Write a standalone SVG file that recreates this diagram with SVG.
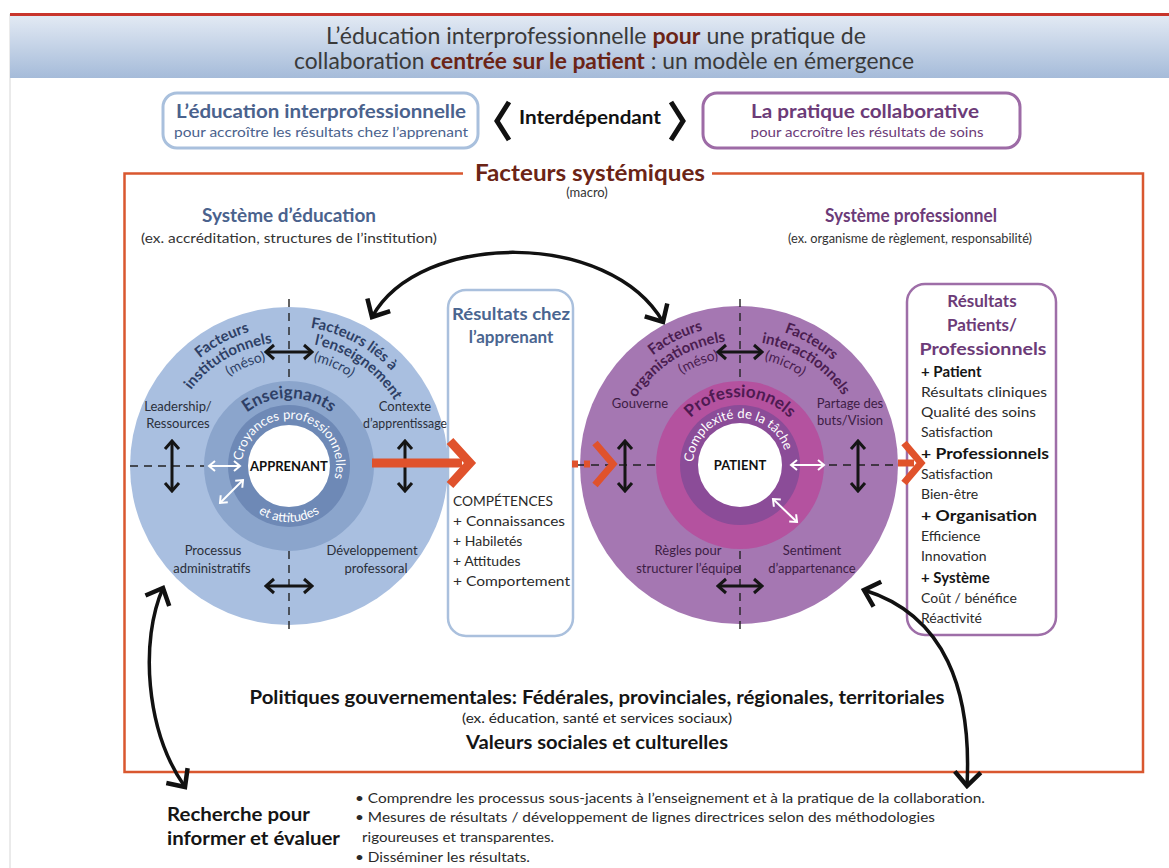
<svg xmlns="http://www.w3.org/2000/svg" width="1169" height="868" viewBox="0 0 1169 868">
<style>
text{font-family:Lato,"Liberation Sans","DejaVu Sans",sans-serif;fill:#2a2a2a}
.b{font-weight:700}
.c{text-anchor:middle}
.blueT{fill:#4a628d}
.purT{fill:#6c3b78}
.brown{fill:#6b2416}
.lbl{font-size:13px}
.lblL{fill:#2b2f3a}
.lblR{fill:#3d1d45}
.arcL{font-size:15px;font-weight:700;fill:#2e3f66}
.arcR{font-size:15px;font-weight:700;fill:#4a1d50}
.arcLs{font-size:14px;fill:#2e3f66}
.arcRs{font-size:14px;fill:#4a1d50}
.dash{stroke:#222;stroke-width:1.4;stroke-dasharray:8 6;fill:none}
.ba{stroke:#151515;stroke-width:3;fill:none;marker-start:url(#mks);marker-end:url(#mks)}
.wa{stroke:#fff;stroke-width:2;fill:none;marker-start:url(#mkw);marker-end:url(#mkw)}
.big{stroke:#111;stroke-width:3.5;fill:none;marker-start:url(#mkb);marker-end:url(#mkb)}
.or{stroke:#e0522c;fill:none}
.list{font-size:14px}
</style>
<defs>
<linearGradient id="band" x1="0" y1="0" x2="0" y2="1">
<stop offset="0" stop-color="#e3eaf4"/>
<stop offset="1" stop-color="#a5bbd9"/>
</linearGradient>
<marker id="mks" viewBox="-10 -9 12 18" refX="0" refY="0" markerWidth="12" markerHeight="18" markerUnits="userSpaceOnUse" orient="auto-start-reverse">
<path d="M-8,-7 L0,0 L-8,7" fill="none" stroke="#151515" stroke-width="3"/>
</marker>
<marker id="mkw" viewBox="-8 -7 10 14" refX="0" refY="0" markerWidth="10" markerHeight="14" markerUnits="userSpaceOnUse" orient="auto-start-reverse">
<path d="M-6,-5 L0,0 L-6,5" fill="none" stroke="#fff" stroke-width="2"/>
</marker>
<marker id="mkb" viewBox="-17 -16 20 32" refX="0" refY="0" markerWidth="20" markerHeight="32" markerUnits="userSpaceOnUse" orient="auto-start-reverse">
<path d="M-14,-13 L0,0 L-14,13" fill="none" stroke="#111" stroke-width="4.5"/>
</marker>
<!-- left circle arcs, centre (289,466) -->
<path id="pL140" d="M151.1,490.3 A140,140 0 1 1 426.9,490.3"/>
<path id="pL124" d="M166.9,487.5 A124,124 0 1 1 411.1,487.5"/>
<path id="pL108" d="M182.6,484.8 A108,108 0 1 1 395.4,484.8"/>
<path id="pL68" d="M289,534 A68,68 0 1 1 289,398 A68,68 0 1 1 289,534"/>
<path id="pL47" d="M289,513 A47,47 0 1 1 289,419 A47,47 0 1 1 289,513"/>
<path id="pL56b" d="M233,466 A56,56 0 0 0 345,466"/>
<!-- right circle arcs, centre (740,465) -->
<path id="pR140" d="M602.1,489.3 A140,140 0 1 1 877.9,489.3"/>
<path id="pR124" d="M617.9,486.5 A124,124 0 1 1 862.1,486.5"/>
<path id="pR108" d="M633.6,483.8 A108,108 0 1 1 846.4,483.8"/>
<path id="pR68" d="M740,533 A68,68 0 1 1 740,397 A68,68 0 1 1 740,533"/>
<path id="pR47" d="M740,512 A47,47 0 1 1 740,418 A47,47 0 1 1 740,512"/>
</defs>

<rect width="1169" height="868" fill="#fff"/>
<line x1="10" y1="14" x2="10" y2="868" stroke="#d6d6d6" stroke-width="1"/>

<g id="title">
<rect x="10" y="15" width="1159" height="63" fill="url(#band)"/>
<line x1="10" y1="14.5" x2="1169" y2="14.5" stroke="#c8352c" stroke-width="3"/>
<text x="596" y="44" class="c" style="font-size:23px;fill:#3a3a3a" textLength="540" lengthAdjust="spacingAndGlyphs">L’éducation interprofessionnelle <tspan class="b brown">pour</tspan> une pratique de</text>
<text x="604" y="69" class="c" style="font-size:23px;fill:#3a3a3a" textLength="620" lengthAdjust="spacingAndGlyphs">collaboration <tspan class="b brown">centrée sur le patient</tspan> : un modèle en émergence</text>
</g>

<g id="box-education">
<rect x="163" y="93" width="315" height="55" rx="14" fill="#fff" stroke="#a9c0dd" stroke-width="3"/>
<text x="321" y="118" class="c b blueT" style="font-size:19px" textLength="290" lengthAdjust="spacingAndGlyphs">L’éducation interprofessionnelle</text>
<text x="321" y="137" class="c blueT" style="font-size:14px" textLength="294" lengthAdjust="spacingAndGlyphs">pour accroître les résultats chez l’apprenant</text>
</g>

<g id="interdependant">
<polyline points="509,102 497,121 509,140" fill="none" stroke="#111" stroke-width="5"/>
<polyline points="671,102 683,121 671,140" fill="none" stroke="#111" stroke-width="5"/>
<text x="590" y="124" class="c b" style="font-size:19px;fill:#111" textLength="142" lengthAdjust="spacingAndGlyphs">Interdépendant</text>
</g>

<g id="box-pratique">
<rect x="703" y="93" width="317" height="55" rx="14" fill="#fff" stroke="#9d6ba6" stroke-width="3"/>
<text x="865" y="118" class="c b purT" style="font-size:19px" textLength="228" lengthAdjust="spacingAndGlyphs">La pratique collaborative</text>
<text x="867" y="137" class="c purT" style="font-size:14px" textLength="233" lengthAdjust="spacingAndGlyphs">pour accroître les résultats de soins</text>
</g>

<g id="facteurs-systemiques">
<path d="M463,173.5 H124.5 V772 H1143 V173.5 H712" fill="none" stroke="#d9572f" stroke-width="2.5"/>
<text x="590" y="181" class="c b brown" style="font-size:22px" textLength="230" lengthAdjust="spacingAndGlyphs">Facteurs systémiques</text>
<text x="587" y="197" class="c" style="font-size:13px;fill:#333">(macro)</text>
</g>

<g id="systeme-education">
<text x="289" y="222" class="c b blueT" style="font-size:18px" textLength="174" lengthAdjust="spacingAndGlyphs">Système d’éducation</text>
<text x="289" y="243" class="c" style="font-size:14px;fill:#333" textLength="296" lengthAdjust="spacingAndGlyphs">(ex. accréditation, structures de l’institution)</text>
</g>

<g id="systeme-professionnel">
<text x="911" y="222" class="c b purT" style="font-size:18px" textLength="172" lengthAdjust="spacingAndGlyphs">Système professionnel</text>
<text x="910" y="243" class="c" style="font-size:14px;fill:#333" textLength="244" lengthAdjust="spacingAndGlyphs">(ex. organisme de règlement, responsabilité)</text>
</g>

<g id="cercle-education">
<circle cx="289" cy="466" r="159" fill="#a9bfe0"/>
<line x1="289" y1="299" x2="289" y2="633" class="dash"/>
<line x1="130" y1="466" x2="448" y2="466" class="dash"/>
<circle cx="289" cy="466" r="85" fill="#8ba5cc"/>
<circle cx="289" cy="466" r="61" fill="#6e89b6"/>
<circle cx="289" cy="466" r="41" fill="#fff"/>
<text class="c b" x="289" y="471" style="font-size:13px;fill:#111">APPRENANT</text>
<text class="arcL c"><textPath href="#pL140" startOffset="36%">Facteurs</textPath></text>
<text class="arcL c"><textPath href="#pL124" startOffset="35%">institutionnels</textPath></text>
<text class="arcLs c"><textPath href="#pL108" startOffset="38.5%">(méso)</textPath></text>
<text class="arcL c"><textPath href="#pL140" startOffset="64%">Facteurs liés à</textPath></text>
<text class="arcL c"><textPath href="#pL124" startOffset="67.5%">l’enseignement</textPath></text>
<text class="arcLs c"><textPath href="#pL108" startOffset="62%">(micro)</textPath></text>
<text class="c b" style="font-size:17px;fill:#2e3f66"><textPath href="#pL68" startOffset="50%">Enseignants</textPath></text>
<text class="c" style="font-size:13px;fill:#fff"><textPath href="#pL47" startOffset="53%">Croyances professionnelles</textPath></text>
<text class="c" style="font-size:13px;fill:#fff"><textPath href="#pL56b" startOffset="50%">et attitudes</textPath></text>
<text class="c lbl lblL" x="178" y="411">Leadership/</text>
<text class="c lbl lblL" x="178" y="428">Ressources</text>
<text class="c lbl lblL" x="405" y="411">Contexte</text>
<text class="c lbl lblL" x="405" y="428" textLength="84" lengthAdjust="spacingAndGlyphs">d’apprentissage</text>
<text class="c lbl lblL" x="213" y="555">Processus</text>
<text class="c lbl lblL" x="212" y="573">administratifs</text>
<text class="c lbl lblL" x="372" y="555">Développement</text>
<text class="c lbl lblL" x="376" y="573">professoral</text>
<path class="ba" d="M266,352 H312"/>
<path class="ba" d="M266,586 H312"/>
<path class="ba" d="M172,441 V491"/>
<path class="ba" d="M405,441 V491"/>
<path class="wa" d="M209,466 H240"/>
<path class="wa" d="M220,503 L243,480"/>
</g>

<g id="resultats-apprenant">
<rect x="448" y="290" width="125" height="346" rx="18" fill="#fff" stroke="#aac0dd" stroke-width="2.5"/>
<text x="511" y="320" class="c b" style="font-size:17px;fill:#4a6590" textLength="118" lengthAdjust="spacingAndGlyphs">Résultats chez</text>
<text x="511" y="343" class="c b" style="font-size:17px;fill:#4a6590">l’apprenant</text>
<text x="453" y="506" class="list" textLength="100" lengthAdjust="spacingAndGlyphs">COMPÉTENCES</text>
<text x="453" y="526" class="list" textLength="112" lengthAdjust="spacingAndGlyphs">+ Connaissances</text>
<text x="453" y="546" class="list">+ Habiletés</text>
<text x="453" y="566" class="list">+ Attitudes</text>
<text x="453" y="586" class="list" textLength="117" lengthAdjust="spacingAndGlyphs">+ Comportement</text>
</g>

<g id="cercle-professionnel">
<circle cx="739" cy="465" r="159" fill="#a577b2"/>
<line x1="740" y1="299" x2="740" y2="633" class="dash"/>
<line x1="577" y1="465" x2="902" y2="465" class="dash"/>
<circle cx="740" cy="465" r="84" fill="#b4529f"/>
<circle cx="740" cy="465" r="60" fill="#8b4c98"/>
<circle cx="740" cy="465" r="42" fill="#fff"/>
<text class="c b" x="740" y="470" style="font-size:13px;fill:#111">PATIENT</text>
<text class="arcR c"><textPath href="#pR140" startOffset="36.5%">Facteurs</textPath></text>
<text class="arcR c"><textPath href="#pR124" startOffset="34%">organisationnels</textPath></text>
<text class="arcRs c"><textPath href="#pR108" startOffset="39%">(méso)</textPath></text>
<text class="arcR c"><textPath href="#pR140" startOffset="65%">Facteurs</textPath></text>
<text class="arcR c"><textPath href="#pR124" startOffset="66.5%">interactionnels</textPath></text>
<text class="arcRs c"><textPath href="#pR108" startOffset="62%">(micro)</textPath></text>
<text class="c b" style="font-size:17px;fill:#4e1a52"><textPath href="#pR68" startOffset="50%">Professionnels</textPath></text>
<text class="c" style="font-size:13px;fill:#fff"><textPath href="#pR47" startOffset="48%">Complexité de la tâche</textPath></text>
<text class="c lbl lblR" x="640" y="408">Gouverne</text>
<text class="c lbl lblR" x="850" y="408">Partage des</text>
<text class="c lbl lblR" x="850" y="425">buts/Vision</text>
<text class="c lbl lblR" x="688" y="555">Règles pour</text>
<text class="c lbl lblR" x="688" y="573">structurer l’équipe</text>
<text class="c lbl lblR" x="812" y="555">Sentiment</text>
<text class="c lbl lblR" x="812" y="573">d’appartenance</text>
<path class="ba" d="M718,352 H762"/>
<path class="ba" d="M718,586 H762"/>
<path class="ba" d="M625,441 V491"/>
<path class="ba" d="M858,441 V491"/>
<path class="wa" d="M791,465 H824"/>
<path class="wa" d="M773,499 L797,522"/>
</g>

<g id="resultats-patients">
<rect x="907" y="284" width="149" height="351" rx="18" fill="#fff" stroke="#9e6ea8" stroke-width="2.5"/>
<text x="982" y="307" class="c b purT" style="font-size:17px">Résultats</text>
<text x="982" y="331" class="c b purT" style="font-size:17px">Patients/</text>
<text x="983" y="355" class="c b purT" style="font-size:17px" textLength="127" lengthAdjust="spacingAndGlyphs">Professionnels</text>
<text x="921" y="377" class="b" style="font-size:15px;fill:#151515">+ Patient</text>
<text x="921" y="397" class="list" textLength="126" lengthAdjust="spacingAndGlyphs">Résultats cliniques</text>
<text x="921" y="417" class="list" textLength="115" lengthAdjust="spacingAndGlyphs">Qualité des soins</text>
<text x="921" y="437" class="list">Satisfaction</text>
<text x="921" y="459" class="b" style="font-size:15px;fill:#151515" textLength="128" lengthAdjust="spacingAndGlyphs">+ Professionnels</text>
<text x="921" y="479" class="list">Satisfaction</text>
<text x="921" y="499" class="list">Bien-être</text>
<text x="921" y="521" class="b" style="font-size:15px;fill:#151515" textLength="116" lengthAdjust="spacingAndGlyphs">+ Organisation</text>
<text x="921" y="541" class="list">Efficience</text>
<text x="921" y="561" class="list">Innovation</text>
<text x="921" y="583" class="b" style="font-size:15px;fill:#151515">+ Système</text>
<text x="921" y="603" class="list">Coût / bénéfice</text>
<text x="921" y="623" class="list">Réactivité</text>
</g>

<g id="politiques">
<text x="597" y="704" class="c b" style="font-size:19px;fill:#151515" textLength="695" lengthAdjust="spacingAndGlyphs">Politiques gouvernementales: Fédérales, provinciales, régionales, territoriales</text>
<text x="597" y="723" class="c" style="font-size:13px;fill:#222" textLength="270" lengthAdjust="spacingAndGlyphs">(ex. éducation, santé et services sociaux)</text>
<text x="597" y="749" class="c b" style="font-size:19px;fill:#151515" textLength="262" lengthAdjust="spacingAndGlyphs">Valeurs sociales et culturelles</text>
</g>

<g id="recherche">
<text x="167" y="821" class="b" style="font-size:19px;fill:#151515" textLength="143" lengthAdjust="spacingAndGlyphs">Recherche pour</text>
<text x="167" y="845" class="b" style="font-size:19px;fill:#151515" textLength="173" lengthAdjust="spacingAndGlyphs">informer et évaluer</text>
<text x="355" y="803" class="list" textLength="630" lengthAdjust="spacingAndGlyphs">• Comprendre les processus sous-jacents à l’enseignement et à la pratique de la collaboration.</text>
<text x="355" y="822" class="list" textLength="580" lengthAdjust="spacingAndGlyphs">• Mesures de résultats / développement de lignes directrices selon des méthodologies</text>
<text x="362" y="842" class="list" textLength="192" lengthAdjust="spacingAndGlyphs">rigoureuses et transparentes.</text>
<text x="355" y="862" class="list" textLength="175" lengthAdjust="spacingAndGlyphs">• Disséminer les résultats.</text>
</g>

<g id="connecteurs">
<path class="big" d="M372,317 C420,230 610,230 663,322"/>
<path class="big" d="M163,588 C140,640 145,730 185,787"/>
<path class="big" d="M864,590 C945,615 972,690 967,786"/>
<line x1="372" y1="463" x2="462" y2="463" class="or" stroke-width="9"/>
<polyline points="450,441 470,463 450,485" class="or" stroke-width="9"/>
<line x1="572" y1="464" x2="578" y2="464" class="or" stroke-width="7"/>
<line x1="584" y1="464" x2="590" y2="464" class="or" stroke-width="7"/>
<polyline points="595,443 613,464 595,485" class="or" stroke-width="7"/>
<line x1="898" y1="463" x2="914" y2="463" class="or" stroke-width="7"/>
<polyline points="904,443 921,463 904,483" class="or" stroke-width="7"/>
</g>
</svg>
